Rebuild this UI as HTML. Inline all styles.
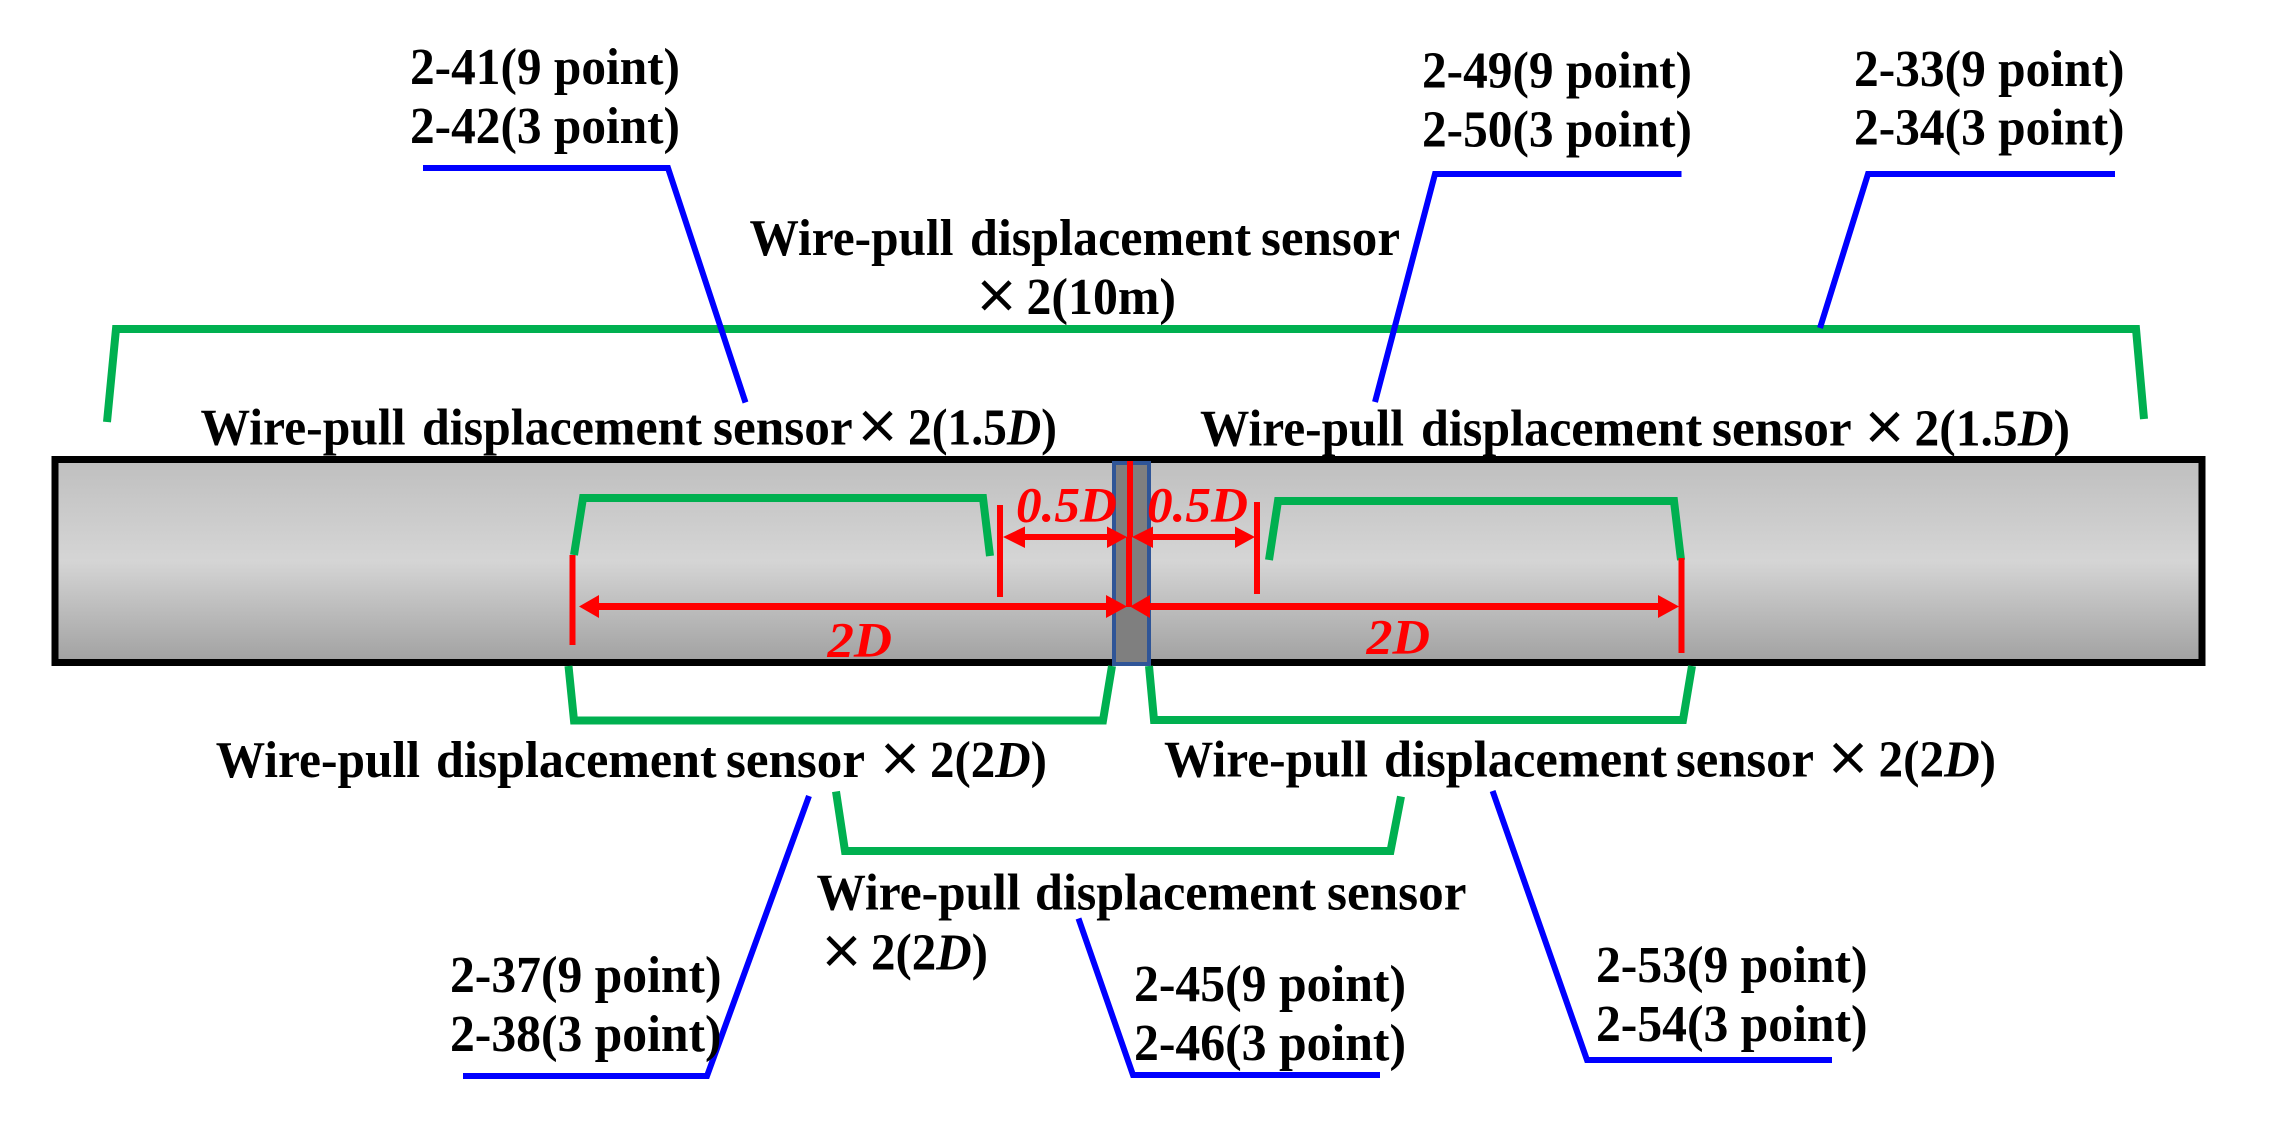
<!DOCTYPE html>
<html><head><meta charset="utf-8"><style>
html,body{margin:0;padding:0;background:#fff;width:2270px;height:1121px;overflow:hidden}
svg{display:block}
text{font-family:"Liberation Serif","Noto Serif CJK SC",serif;font-weight:bold;font-size:52px;fill:#000;}
.x{font-family:"Noto Sans CJK SC","DejaVu Sans",sans-serif;font-weight:700;font-size:46px;text-anchor:middle}
.r{fill:#f00;font-style:italic;font-size:50px}
</style></head><body>
<svg width="2270" height="1121" viewBox="0 0 2270 1121" xmlns="http://www.w3.org/2000/svg">
<defs><linearGradient id="g" x1="0" y1="0" x2="0" y2="1">
<stop offset="0" stop-color="#bfbfbf"/><stop offset="0.5" stop-color="#d5d5d5"/><stop offset="1" stop-color="#a1a1a1"/></linearGradient></defs>
<rect x="55" y="459.5" width="2147" height="203" fill="url(#g)" stroke="#000" stroke-width="7"/>
<rect x="1114" y="463" width="35" height="201" fill="#7f7f7f" stroke="#2f5597" stroke-width="4"/>

<g fill="none" stroke="#00b050" stroke-width="8">
<path d="M107 422L116 329H2136L2144 419"/>
<path d="M574 555L583 498H983L990 556"/>
<path d="M1269 560L1278 501H1674L1681 560"/>
<path d="M568.5 666L574 720.5H1103L1112 666"/>
<path d="M1149 666L1154 720H1683L1692 666"/>
<path d="M836 791.5L845 851H1390.5L1401 796.5"/>
</g>
<g fill="none" stroke="#00f" stroke-width="6">
<path d="M423 168H668L745.5 402.5"/>
<path d="M1375 402L1435 174H1681.5"/>
<path d="M1820 328L1868 174H2115"/>
<path d="M809 796L707 1076H463"/>
<path d="M1078.5 918.5L1133 1075H1380"/>
<path d="M1492.6 791L1587 1060H1832"/>
</g>

<g stroke="#f00" fill="none">
<path stroke-width="6" d="M1130 461V537M1129 537V607"/>
<path stroke-width="6" d="M1000 505V597M1257 502V594"/>
<path stroke-width="6" d="M572.5 555V645M1681.5 558V653"/>
<path stroke-width="6" d="M1020 537H1110M1150 537H1240"/>
<path stroke-width="7" d="M595 606.5H1110M1146 606.5H1662"/>
</g>
<g fill="#f00">
<polygon points="1003,537 1025,526.5 1025,548"/>
<polygon points="1127,537 1107,526.5 1107,548"/>
<polygon points="1132,537 1153,526.5 1153,548"/>
<polygon points="1255,537 1235,526.5 1235,548"/>
<polygon points="579,606.5 599,595 599,618"/>
<polygon points="1127,606.5 1106,595 1106,618"/>
<polygon points="1130,606.5 1150,595 1150,618"/>
<polygon points="1679,606.5 1658,595 1658,618"/>
</g>

<text x="410" y="84" textLength="270" lengthAdjust="spacingAndGlyphs">2-41(9 point)</text>
<text x="410" y="143" textLength="270" lengthAdjust="spacingAndGlyphs">2-42(3 point)</text>
<text x="1422" y="87.5" textLength="270" lengthAdjust="spacingAndGlyphs">2-49(9 point)</text>
<text x="1422" y="146.5" textLength="270" lengthAdjust="spacingAndGlyphs">2-50(3 point)</text>
<text x="1854" y="86" textLength="270.5" lengthAdjust="spacingAndGlyphs">2-33(9 point)</text>
<text x="1854" y="144.5" textLength="270.5" lengthAdjust="spacingAndGlyphs">2-34(3 point)</text>

<text x="749.5" y="255" textLength="204" lengthAdjust="spacingAndGlyphs">Wire-pull</text>
<text x="970" y="255" textLength="281" lengthAdjust="spacingAndGlyphs">displacement</text>
<text x="1261" y="255" textLength="139" lengthAdjust="spacingAndGlyphs">sensor</text>
<text class="x" x="996.5" y="313">×</text>
<text x="1026.5" y="314" textLength="149.5" lengthAdjust="spacingAndGlyphs">2(10m)</text>

<text x="200.5" y="444.5" textLength="205" lengthAdjust="spacingAndGlyphs">Wire-pull</text>
<text x="422" y="444.5" textLength="280" lengthAdjust="spacingAndGlyphs">displacement</text>
<text x="713" y="444.5" textLength="139.7" lengthAdjust="spacingAndGlyphs">sensor</text>
<text class="x" x="877.5" y="443.5">×</text>
<text x="908" y="444.5" textLength="149" lengthAdjust="spacingAndGlyphs">2(1.5<tspan font-style="italic">D</tspan>)</text>

<text x="1200" y="445.5" textLength="204" lengthAdjust="spacingAndGlyphs">Wire-pull</text>
<text x="1421" y="445.5" textLength="281" lengthAdjust="spacingAndGlyphs">displacement</text>
<text x="1712" y="445.5" textLength="139.6" lengthAdjust="spacingAndGlyphs">sensor</text>
<text class="x" x="1884.5" y="444.5">×</text>
<text x="1914.5" y="445.5" textLength="155.5" lengthAdjust="spacingAndGlyphs">2(1.5<tspan font-style="italic">D</tspan>)</text>

<text x="215.7" y="777" textLength="204.3" lengthAdjust="spacingAndGlyphs">Wire-pull</text>
<text x="436" y="777" textLength="280.6" lengthAdjust="spacingAndGlyphs">displacement</text>
<text x="726" y="777" textLength="139" lengthAdjust="spacingAndGlyphs">sensor</text>
<text class="x" x="900" y="776">×</text>
<text x="930" y="777" textLength="117" lengthAdjust="spacingAndGlyphs">2(2<tspan font-style="italic">D</tspan>)</text>

<text x="1164" y="776.5" textLength="204" lengthAdjust="spacingAndGlyphs">Wire-pull</text>
<text x="1384" y="776.5" textLength="283" lengthAdjust="spacingAndGlyphs">displacement</text>
<text x="1676" y="776.5" textLength="138" lengthAdjust="spacingAndGlyphs">sensor</text>
<text class="x" x="1848" y="775.5">×</text>
<text x="1878.5" y="776.5" textLength="117.5" lengthAdjust="spacingAndGlyphs">2(2<tspan font-style="italic">D</tspan>)</text>

<text x="816.5" y="909.5" textLength="204" lengthAdjust="spacingAndGlyphs">Wire-pull</text>
<text x="1035" y="909.5" textLength="281" lengthAdjust="spacingAndGlyphs">displacement</text>
<text x="1327" y="909.5" textLength="139.5" lengthAdjust="spacingAndGlyphs">sensor</text>
<text class="x" x="841.5" y="968.5">×</text>
<text x="871" y="969.5" textLength="117" lengthAdjust="spacingAndGlyphs">2(2<tspan font-style="italic">D</tspan>)</text>

<text x="450" y="992" textLength="271.5" lengthAdjust="spacingAndGlyphs">2-37(9 point)</text>
<text x="450" y="1051" textLength="271.5" lengthAdjust="spacingAndGlyphs">2-38(3 point)</text>
<text x="1134" y="1001" textLength="272" lengthAdjust="spacingAndGlyphs">2-45(9 point)</text>
<text x="1134" y="1060" textLength="272" lengthAdjust="spacingAndGlyphs">2-46(3 point)</text>
<text x="1596" y="982" textLength="271.5" lengthAdjust="spacingAndGlyphs">2-53(9 point)</text>
<text x="1596" y="1041" textLength="271.5" lengthAdjust="spacingAndGlyphs">2-54(3 point)</text>

<text class="r" x="1016" y="521.5" textLength="101" lengthAdjust="spacingAndGlyphs">0.5D</text>
<text class="r" x="1147" y="521.5" textLength="101" lengthAdjust="spacingAndGlyphs">0.5D</text>
<text class="r" x="827.5" y="656.5" textLength="64.5" lengthAdjust="spacingAndGlyphs">2D</text>
<text class="r" x="1366.5" y="653.5" textLength="63.5" lengthAdjust="spacingAndGlyphs">2D</text>
</svg>
</body></html>
